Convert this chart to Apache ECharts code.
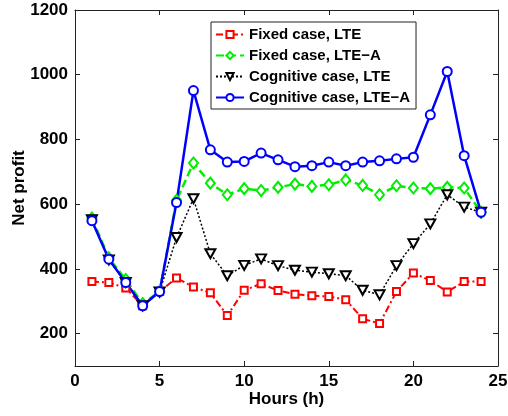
<!DOCTYPE html>
<html>
<head>
<meta charset="utf-8">
<script src="https://cdn.jsdelivr.net/npm/echarts@6/dist/echarts.min.js"></script>
<style>html,body{margin:0;padding:0;background:#fff;}#c{width:508px;height:416px;}</style>
</head>
<body>
<div id="c"></div>
<script>
var hours = [1,2,3,4,5,6,7,8,9,10,11,12,13,14,15,16,17,18,19,20,21,22,23,24];
var fixedLTE = [361,358,341,286,330,372,344,326,256,334,354,333,322,317,315,305,246,231,330,387,364,329,361,361];
var fixedLTEA = [557,434,367,293,330,612,727,665,629,648,642,652,662,655,660,675,658,629,657,650,648,652,650,575];
var cogLTE = [552,428,358,286,329,497,617,447,379,411,431,410,396,390,385,379,334,320,410,478,539,629,591,575];
var cogLTEA = [549,430,358,286,330,605,951,768,730,732,758,737,716,719,730,719,730,734,740,745,876,1010,750,575];
var yTicks = [200,400,600,800,1000,1200];
var xTicks = [0,5,10,15,20,25];
var names = ['Fixed case, LTE','Fixed case, LTE\u2212A','Cognitive case, LTE','Cognitive case, LTE\u2212A'];

function pairs(v){ return hours.map(function(h,i){ return [h, v[i]]; }); }
function plain(v){ return String(v); }

var font = 'Liberation Sans, Arial, Helvetica, sans-serif';
var axisCol = '#222';
var chart = echarts.init(document.getElementById('c'), null, {renderer:'canvas'});
chart.setOption({
  animation:false,
  backgroundColor:'#fff',
  grid:{left:75, right:10, top:10, bottom:50, containLabel:false, outerBoundsMode:'none'},
  legend:{
    orient:'vertical', left:211, top:22,
    itemWidth:28, itemHeight:9, itemGap:6,
    backgroundColor:'#fff', borderColor:'#222', borderWidth:1,
    padding:[5,6,4,4],
    textStyle:{fontFamily:font, fontWeight:'bold', fontSize:15, color:'#000'},
    data:names
  },
  xAxis:[{
    type:'value', min:0, max:25, interval:5, position:'bottom',
    name:'Hours (h)', nameLocation:'middle', nameGap:25, nameMoveOverlap:false,
    nameTextStyle:{fontFamily:font, fontWeight:'bold', fontSize:17, color:'#000'},
    axisLine:{show:true, onZero:false, lineStyle:{color:axisCol, width:1}},
    axisTick:{show:true, inside:true, length:5, lineStyle:{color:axisCol}},
    axisLabel:{fontFamily:font, fontWeight:'bold', fontSize:17, color:'#000', margin:7, formatter:plain},
    splitLine:{show:false}
  },{
    type:'value', min:0, max:25, interval:5, position:'top',
    axisLine:{show:true, onZero:false, lineStyle:{color:axisCol, width:1}},
    axisTick:{show:true, inside:true, length:5, lineStyle:{color:axisCol}},
    axisLabel:{show:false}, splitLine:{show:false}
  }],
  yAxis:[{
    type:'value', min:100, max:1200, position:'left',
    name:'Net profit', nameLocation:'middle', nameGap:47, nameRotate:90, nameMoveOverlap:false,
    nameTextStyle:{fontFamily:font, fontWeight:'bold', fontSize:17, color:'#000'},
    axisLine:{show:true, onZero:false, lineStyle:{color:axisCol, width:1}},
    axisTick:{show:true, inside:true, length:5, customValues:yTicks, lineStyle:{color:axisCol}},
    axisLabel:{fontFamily:font, fontWeight:'bold', fontSize:17, color:'#000', margin:7, customValues:yTicks, formatter:plain},
    splitLine:{show:false}
  },{
    type:'value', min:100, max:1200, position:'right',
    axisLine:{show:true, onZero:false, lineStyle:{color:axisCol, width:1}},
    axisTick:{show:true, inside:true, length:5, customValues:yTicks, lineStyle:{color:axisCol}},
    axisLabel:{show:false, customValues:yTicks}, splitLine:{show:false}
  }],
  series:[{
    name:names[0], type:'line', data:pairs(fixedLTE),
    symbol:'emptyRect', symbolSize:7,
    lineStyle:{color:'#ff0000', width:2, type:[7,3,2,3]},
    itemStyle:{color:'#ff0000', borderColor:'#ff0000', borderWidth:1.5}
  },{
    name:names[1], type:'line', data:pairs(fixedLTEA),
    symbol:'emptyDiamond', symbolSize:[9,11],
    lineStyle:{color:'#00ee00', width:2.5, type:[8,4]},
    itemStyle:{color:'#00ee00', borderColor:'#00ee00', borderWidth:1.5}
  },{
    name:names[2], type:'line', data:pairs(cogLTE),
    symbol:'emptyTriangle', symbolSize:[10,9], symbolRotate:180,
    lineStyle:{color:'#000', width:1.5, type:[2,2]},
    itemStyle:{color:'#000', borderColor:'#000', borderWidth:1.5}
  },{
    name:names[3], type:'line', data:pairs(cogLTEA),
    symbol:'emptyCircle', symbolSize:9,
    lineStyle:{color:'#0000ff', width:2.5, type:'solid'},
    itemStyle:{color:'#0000ff', borderColor:'#0000ff', borderWidth:1.5}
  }]
});
</script>
</body>
</html>
